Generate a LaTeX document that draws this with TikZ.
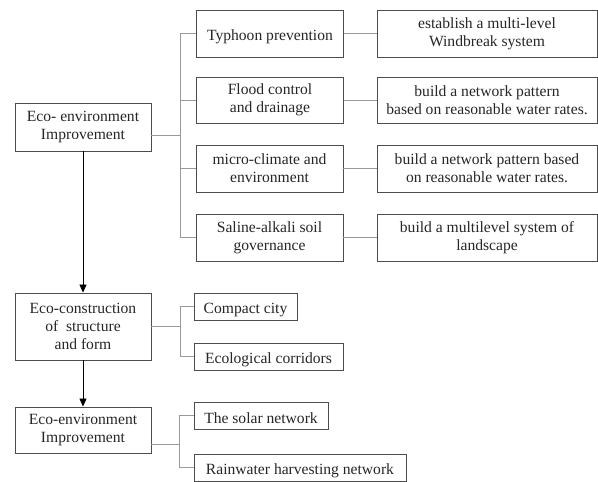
\documentclass[tikz,border=0pt]{standalone}
\usepackage{fontspec}
\setmainfont{Liberation Serif}
\usetikzlibrary{arrows.meta}
\begin{document}
\begin{tikzpicture}[x=1pt,y=-1pt,
  box/.style={draw=black!70,line width=0.9pt,rectangle,inner sep=0pt,align=center,
    font=\fontsize{15.6}{18}\selectfont,text=black!85,
    execute at begin node={\rule{0pt}{16.5pt}}},
  conn/.style={draw=black!40,line width=0.8pt},
  arr/.style={draw=black,line width=0.8pt,-{Triangle[width=7pt,length=8pt]}}]
\useasboundingbox (0,0) rectangle (598,482);
% left column
\node[box,minimum width=136pt,minimum height=48pt] (A) at (83,127) {Eco- environment\\Improvement};
\node[box,minimum width=136pt,minimum height=67pt] (B) at (83,326.5) {Eco-construction\\of\enspace structure\\and form};
\node[box,minimum width=136pt,minimum height=46pt] (C) at (83,430) {Eco-environment\\Improvement};
% middle column
\node[box,minimum width=147pt,minimum height=47pt] (m1) at (270,33.5) {Typhoon prevention};
\node[box,minimum width=147pt,minimum height=46pt] (m2) at (270,100) {Flood control\\and drainage};
\node[box,minimum width=147pt,minimum height=47pt] (m3) at (269.5,168.5) {micro-climate and\\environment};
\node[box,minimum width=147pt,minimum height=47pt] (m4) at (269.5,237.5) {Saline-alkali soil\\governance};
% right column
\node[box,minimum width=220pt,minimum height=47pt] (r1) at (487,33.5) {establish a multi-level\\Windbreak system};
\node[box,minimum width=220pt,minimum height=46pt] (r2) at (487,100) {build a network pattern\\based on reasonable water rates.};
\node[box,minimum width=220pt,minimum height=47pt] (r3) at (487,168.5) {build a network pattern based\\on reasonable water rates.};
\node[box,minimum width=220pt,minimum height=47pt] (r4) at (487,237.5) {build a multilevel system of\\landscape};
% small boxes
\node[box,minimum width=103pt,minimum height=27pt] (b1) at (245.5,306.5) {Compact city};
\node[box,minimum width=149pt,minimum height=27pt] (b2) at (268.5,356.5) {Ecological corridors};
\node[box,minimum width=134pt,minimum height=27pt] (c1) at (261,415.5) {The solar network};
\node[box,minimum width=212pt,minimum height=27pt] (c2) at (300,467.5) {Rainwater harvesting network};
% connectors
\coordinate (ja) at ([yshift=-8pt]A.east);
\coordinate (jc) at ([yshift=-14pt]C.east);
\foreach \t in {m1,m2,m3,m4}{\draw[conn] (ja) -- ++(29,0) |- (\t.west);}
\foreach \t in {b1,b2}{\draw[conn] (B.east) -- ++(29,0) |- (\t.west);}
\foreach \t in {c1,c2}{\draw[conn] (jc) -- ++(28,0) |- (\t.west);}
\foreach \i in {1,2,3,4}{\draw[conn] (m\i.east) -- (r\i.west);}
\draw[arr] (A.south) -- (B.north);
\draw[arr] (B.south) -- (C.north);
\end{tikzpicture}
\end{document}
